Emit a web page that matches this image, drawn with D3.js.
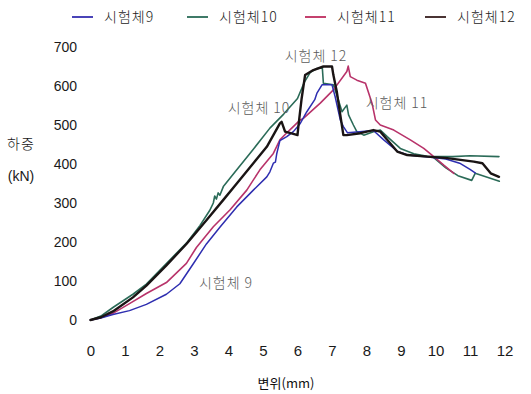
<!DOCTYPE html>
<html>
<head>
<meta charset="utf-8">
<script src="https://cdn.jsdelivr.net/npm/d3@7"></script>
<style>
  html, body { margin: 0; padding: 0; background: #fff; }
  text { font-family: "Liberation Sans", Arial, "Noto Sans CJK KR", sans-serif; }
  .kr { font-family: "Noto Sans CJK KR", "Liberation Sans", sans-serif; font-weight: 300; letter-spacing: 1px; }
  .kr-title { font-family: "Noto Sans CJK KR", "Liberation Sans", sans-serif; font-weight: 400; }
</style>
</head>
<body>
<svg id="chart" width="531" height="394"></svg>
<script>
// Load–displacement records [displacement mm, load kN]
const spec9 = [[0,0],[0.3,5],[0.65,14],[1.13,24],[1.62,40],[2.2,66],[2.59,93],[2.97,143],[3.36,195],[3.75,238],[4.24,290],[4.72,333],[5.11,367],[5.2,380],[5.3,402],[5.36,405],[5.4,427],[5.49,460],[5.69,470],[5.88,483],[6.08,504],[6.27,534],[6.5,565],[6.56,581],[6.71,603],[7.0,603],[7.09,573],[7.24,513],[7.33,496],[7.45,480],[7.8,483],[8.2,486],[8.5,462],[8.9,432],[9.2,423],[9.8,418],[10.3,413],[10.7,402],[11.0,386],[11.15,377]];

const spec10 = [[0,0],[0.3,10],[0.65,32],[1.23,66],[1.62,92],[2.2,145],[2.78,197],[3.17,242],[3.45,280],[3.56,300],[3.6,318],[3.65,310],[3.7,326],[3.75,320],[3.85,342],[4.24,385],[4.72,438],[5.2,492],[5.6,528],[6.0,568],[6.2,610],[6.37,635],[6.56,645],[6.72,646],[6.75,607],[7.04,603],[7.14,577],[7.29,534],[7.43,551],[7.48,526],[7.62,500],[7.72,483],[7.92,474],[8.2,483],[8.4,487],[8.6,470],[8.98,440],[9.37,426],[9.76,420],[10.5,419],[11.0,421],[11.84,419]];

const spec10Branch = [[9.95,416],[10.3,390],[10.65,370],[11.05,358],[11.15,376],[11.5,366],[11.85,356]];

const spec11 = [[0,0],[0.3,6],[0.65,17],[1.13,42],[1.62,68],[2.2,96],[2.78,145],[3.07,186],[3.56,239],[4.04,282],[4.53,333],[4.91,385],[5.3,427],[5.49,462],[5.69,480],[6.08,513],[6.17,517],[6.66,556],[7.04,590],[7.43,637],[7.47,651],[7.53,624],[7.72,615],[7.97,607],[8.16,556],[8.26,513],[8.4,500],[8.79,487],[9.27,462],[9.66,440],[9.95,419],[10.24,397],[10.53,376]];

const spec12 = [[0,0],[0.3,7],[0.65,22],[1.23,58],[1.62,88],[2.2,140],[2.78,195],[3.36,256],[3.85,308],[4.24,350],[4.72,402],[5.11,444],[5.49,504],[5.54,508],[5.64,483],[5.93,476],[6.0,474],[6.03,500],[6.12,568],[6.22,628],[6.46,641],[6.75,650],[7.0,650],[7.04,628],[7.14,585],[7.24,526],[7.33,474],[7.43,474],[7.82,479],[8.2,487],[8.4,483],[8.6,462],[8.89,432],[9.18,423],[9.76,419],[10.34,415],[11.11,406],[11.36,402],[11.6,376],[11.84,367]];

const xTicks = [0,1,2,3,4,5,6,7,8,9,10,11,12];
const yTicks = [0,100,200,300,400,500,600,700];

const seriesNames = ["시험체9", "시험체10", "시험체11", "시험체12"];
const seriesColors = ["#2e2eb0", "#2b6b58", "#b8336a", "#1a1414"];
const legendColors = ["#4a44b8", "#3f7a68", "#c4416e", "#4a3434"];

const svg = d3.select("#chart");
svg.append("rect").attr("width", 531).attr("height", 394).attr("fill", "#fff");

const x = d3.scaleLinear().domain([0, 12]).range([90.5, 504.5]);
const y = d3.scaleLinear().domain([0, 700]).range([320, 47]);

// Axes: tick labels only, no domain lines
const xAxis = d3.axisBottom(x).tickValues(xTicks).tickSize(0).tickPadding(0).tickFormat(d3.format("d"));
const gx = svg.append("g").attr("transform", "translate(0,345)").call(xAxis);
gx.select(".domain").remove();
gx.selectAll("text").attr("font-size", 15).attr("fill", "#1a1a1a")
  .attr("font-family", "Liberation Sans, Arial, sans-serif");

const yAxis = d3.axisLeft(y).tickValues(yTicks).tickSize(0).tickPadding(0).tickFormat(d3.format("d"));
const gy = svg.append("g").attr("transform", "translate(77,0)").call(yAxis);
gy.select(".domain").remove();
gy.selectAll("text").attr("font-size", 14).attr("fill", "#1a1a1a")
  .attr("font-family", "Liberation Sans, Arial, sans-serif");

// Axis titles
svg.append("text").attr("class", "kr").attr("x", 21).attr("y", 149)
  .attr("text-anchor", "middle").attr("font-size", 14).attr("fill", "#1a1a1a").text("하중");
svg.append("text").attr("x", 21).attr("y", 181)
  .attr("text-anchor", "middle").attr("font-size", 14).attr("fill", "#1a1a1a").text("(kN)");
svg.append("text").attr("class", "kr-title").attr("x", 286).attr("y", 388)
  .attr("text-anchor", "middle").attr("font-size", 13).attr("fill", "#111111").text("변위(mm)");

// Curves
const line = d3.line().x(d => x(d[0])).y(d => y(d[1]));
const curves = [
  { data: spec10, color: seriesColors[1], w: 1.6 },
  { data: spec10Branch, color: seriesColors[1], w: 1.6 },
  { data: spec11, color: seriesColors[2], w: 1.6 },
  { data: spec9, color: seriesColors[0], w: 1.5 },
  { data: spec12, color: seriesColors[3], w: 2.4 }
];
svg.append("g").selectAll("path").data(curves).join("path")
  .attr("d", d => line(d.data))
  .attr("fill", "none")
  .attr("stroke", d => d.color)
  .attr("stroke-width", d => d.w)
  .attr("stroke-linejoin", "round")
  .attr("stroke-linecap", "round");

// Curve labels
const notes = [
  { t: "시험체 12", px: 316, py: 61 },
  { t: "시험체 10", px: 259, py: 113 },
  { t: "시험체 11", px: 397, py: 108 },
  { t: "시험체 9", px: 226, py: 288 }
];
svg.append("g").selectAll("text").data(notes).join("text")
  .attr("class", "kr")
  .attr("x", d => d.px).attr("y", d => d.py)
  .attr("text-anchor", "middle")
  .attr("font-size", 14).attr("fill", "#5a5a5a")
  .text(d => d.t);

// Legend
const legendX = [72, 187, 305, 425];
const lg = svg.append("g").selectAll("g").data(seriesNames).join("g")
  .attr("transform", (d, i) => `translate(${legendX[i]},17)`);
lg.append("line").attr("x1", 0).attr("x2", 21).attr("y1", 0).attr("y2", 0)
  .attr("stroke", (d, i) => legendColors[i]).attr("stroke-width", 2);
lg.append("text").attr("class", "kr").attr("x", 32).attr("y", 5)
  .attr("font-size", 14).attr("fill", "#1a1a1a").text(d => d);
</script>
</body>
</html>
